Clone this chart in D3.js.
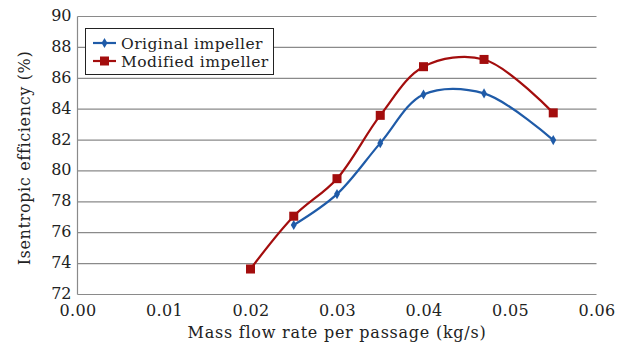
<!DOCTYPE html>
<html><head><meta charset="utf-8">
<script src="https://cdn.jsdelivr.net/npm/d3@7"></script>
<style>body{margin:0;background:#fff}svg{display:block}text{font-family:"DejaVu Serif",serif;fill:#222}</style>
</head><body><svg id="c" width="623" height="349"></svg>
<script>
const xTicks = [0, 0.01, 0.02, 0.03, 0.04, 0.05, 0.06];
const yTicks = [72, 74, 76, 78, 80, 82, 84, 86, 88, 90];
const originalX = [0.025, 0.03, 0.035, 0.04, 0.047, 0.055];
const originalY = [76.5, 78.5, 81.8, 84.95, 85.02, 82.0];
const modifiedX = [0.02, 0.025, 0.03, 0.035, 0.04, 0.047, 0.055];
const modifiedY = [73.65, 77.07, 79.5, 83.6, 86.75, 87.22, 83.76];
const seriesNames = ["Original impeller", "Modified impeller"];

const svg = d3.select("#c");
const m = {l: 77.5, r: 596.5, t: 16.5, b: 294.5};
const x = d3.scaleLinear().domain([0, 0.06]).range([m.l, m.r]);
const y = d3.scaleLinear().domain([72, 90]).range([m.b, m.t]);

// gridlines
svg.append("g").selectAll("line").data(yTicks).join("line")
  .attr("x1", m.l).attr("x2", m.r).attr("y1", d => y(d)).attr("y2", d => y(d))
  .attr("stroke", "#8a8a8a").attr("stroke-width", 1.2);
// left axis line
svg.append("line").attr("x1", m.l).attr("x2", m.l).attr("y1", m.t).attr("y2", m.b)
  .attr("stroke", "#8a8a8a").attr("stroke-width", 1.2);

const xa = svg.append("g").attr("transform", `translate(0,${m.b})`)
  .call(d3.axisBottom(x).tickValues(xTicks).tickFormat(d3.format(".2f")).tickSize(0).tickPadding(10));
xa.select(".domain").remove();
xa.selectAll("text").attr("font-size", 16).attr("font-family", "DejaVu Serif").attr("fill", "#222").attr("letter-spacing", 0.3);
const ya = svg.append("g").attr("transform", `translate(${m.l},0)`)
  .call(d3.axisLeft(y).tickValues(yTicks).tickFormat(d3.format("d")).tickSize(0).tickPadding(6));
ya.select(".domain").remove();
ya.selectAll("text").attr("font-size", 16).attr("font-family", "DejaVu Serif").attr("fill", "#222").attr("dy", "0.25em");

svg.append("text").attr("x", 337).attr("y", 338).attr("text-anchor", "middle")
  .attr("font-size", 16).attr("letter-spacing", 0.75).text("Mass flow rate per passage (kg/s)");
svg.append("text").attr("transform", "translate(30,158) rotate(-90)").attr("text-anchor", "middle")
  .attr("font-size", 16).attr("letter-spacing", 0.65).text("Isentropic efficiency (%)");

const line = d3.line().x(d => x(d[0])).y(d => y(d[1])).curve(d3.curveCatmullRom.alpha(0.5));
const blue = "#1f5ba8", red = "#a30d0d";
const orig = originalX.map((v, i) => [v, originalY[i]]);
const mod = modifiedX.map((v, i) => [v, modifiedY[i]]);

svg.append("path").datum(orig).attr("d", line).attr("fill", "none").attr("stroke", blue).attr("stroke-width", 2.2);
svg.append("path").datum(mod).attr("d", line).attr("fill", "none").attr("stroke", red).attr("stroke-width", 2.2);

const dia = d3.symbol().type(d3.symbolDiamond).size(30);
svg.append("g").selectAll("path").data(orig).join("path")
  .attr("transform", d => `translate(${x(d[0])},${y(d[1])})`).attr("d", dia).attr("fill", blue);
svg.append("g").selectAll("rect").data(mod).join("rect")
  .attr("x", d => x(d[0]) - 4.5).attr("y", d => y(d[1]) - 4.5).attr("width", 9).attr("height", 9).attr("fill", red);

// legend
const lg = svg.append("g");
lg.append("rect").attr("x", 85.5).attr("y", 28.5).attr("width", 188).attr("height", 46)
  .attr("fill", "#fff").attr("stroke", "#222").attr("stroke-width", 1);
const rows = [{n: seriesNames[0], c: blue, t: "d"}, {n: seriesNames[1], c: red, t: "s"}];
rows.forEach((r, i) => {
  const yy = 43 + i * 18;
  lg.append("line").attr("x1", 93).attr("x2", 116).attr("y1", yy).attr("y2", yy).attr("stroke", r.c).attr("stroke-width", 2.2);
  if (r.t === "d") lg.append("path").attr("transform", `translate(104.5,${yy})`).attr("d", dia).attr("fill", r.c);
  else lg.append("rect").attr("x", 100).attr("y", yy - 4.5).attr("width", 9).attr("height", 9).attr("fill", r.c);
  lg.append("text").attr("x", 121).attr("y", yy + 5.5).attr("font-size", 15.5).attr("letter-spacing", 0.45).text(r.n);
});
</script></body></html>
